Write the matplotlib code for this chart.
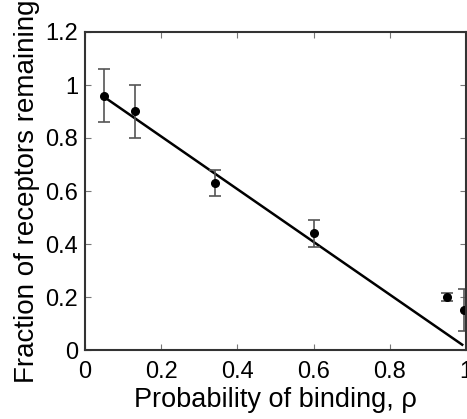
import matplotlib
matplotlib.use("Agg")
from matplotlib import pyplot as plt

# data
p_bind = [0.05, 0.13, 0.34, 0.60, 0.95, 0.995]
frac = [0.96, 0.90, 0.63, 0.44, 0.20, 0.15]
frac_err = [0.10, 0.10, 0.05, 0.05, 0.015, 0.08]

fit_x = [0.05, 0.99]
fit_y = [0.955, 0.02]

xticks = [0, 0.2, 0.4, 0.6, 0.8, 1]
xticklabels = ["0", "0.2", "0.4", "0.6", "0.8", "1"]
yticks = [0, 0.2, 0.4, 0.6, 0.8, 1, 1.2]
yticklabels = ["0", "0.2", "0.4", "0.6", "0.8", "1", "1.2"]

plt.rcParams["font.family"] = ["Liberation Sans", "DejaVu Sans"]

fig = plt.figure(figsize=(4.67, 4.19), dpi=100)
ax = fig.add_axes([85 / 467, 1 - 350 / 419, 381 / 467, 318 / 419])

ax.plot(fit_x, fit_y, color="black", lw=1.8)
ax.errorbar(p_bind, frac, yerr=frac_err, fmt="o", color="black", ms=5.5,
            ecolor="#555555", elinewidth=1.2, capsize=4, capthick=1.2)

ax.set_xlim(0, 1)
ax.set_ylim(0, 1.2)
ax.set_xticks(xticks)
ax.set_xticklabels(xticklabels)
ax.set_yticks(yticks)
ax.set_yticklabels(yticklabels)
ax.tick_params(direction="in", top=True, right=True, length=4, width=0.8,
               color="#777777", labelsize=17)
ax.tick_params(axis="x", pad=8)
ax.tick_params(axis="y", pad=5)
for s in ax.spines.values():
    s.set_color("#333333")
    s.set_linewidth(1.5)

ax.set_xlabel("Probability of binding, ρ", fontsize=19.5, labelpad=3)
ax.set_ylabel("Fraction of receptors remaining", fontsize=20, labelpad=4)

fig.savefig("out.png", dpi=100)
